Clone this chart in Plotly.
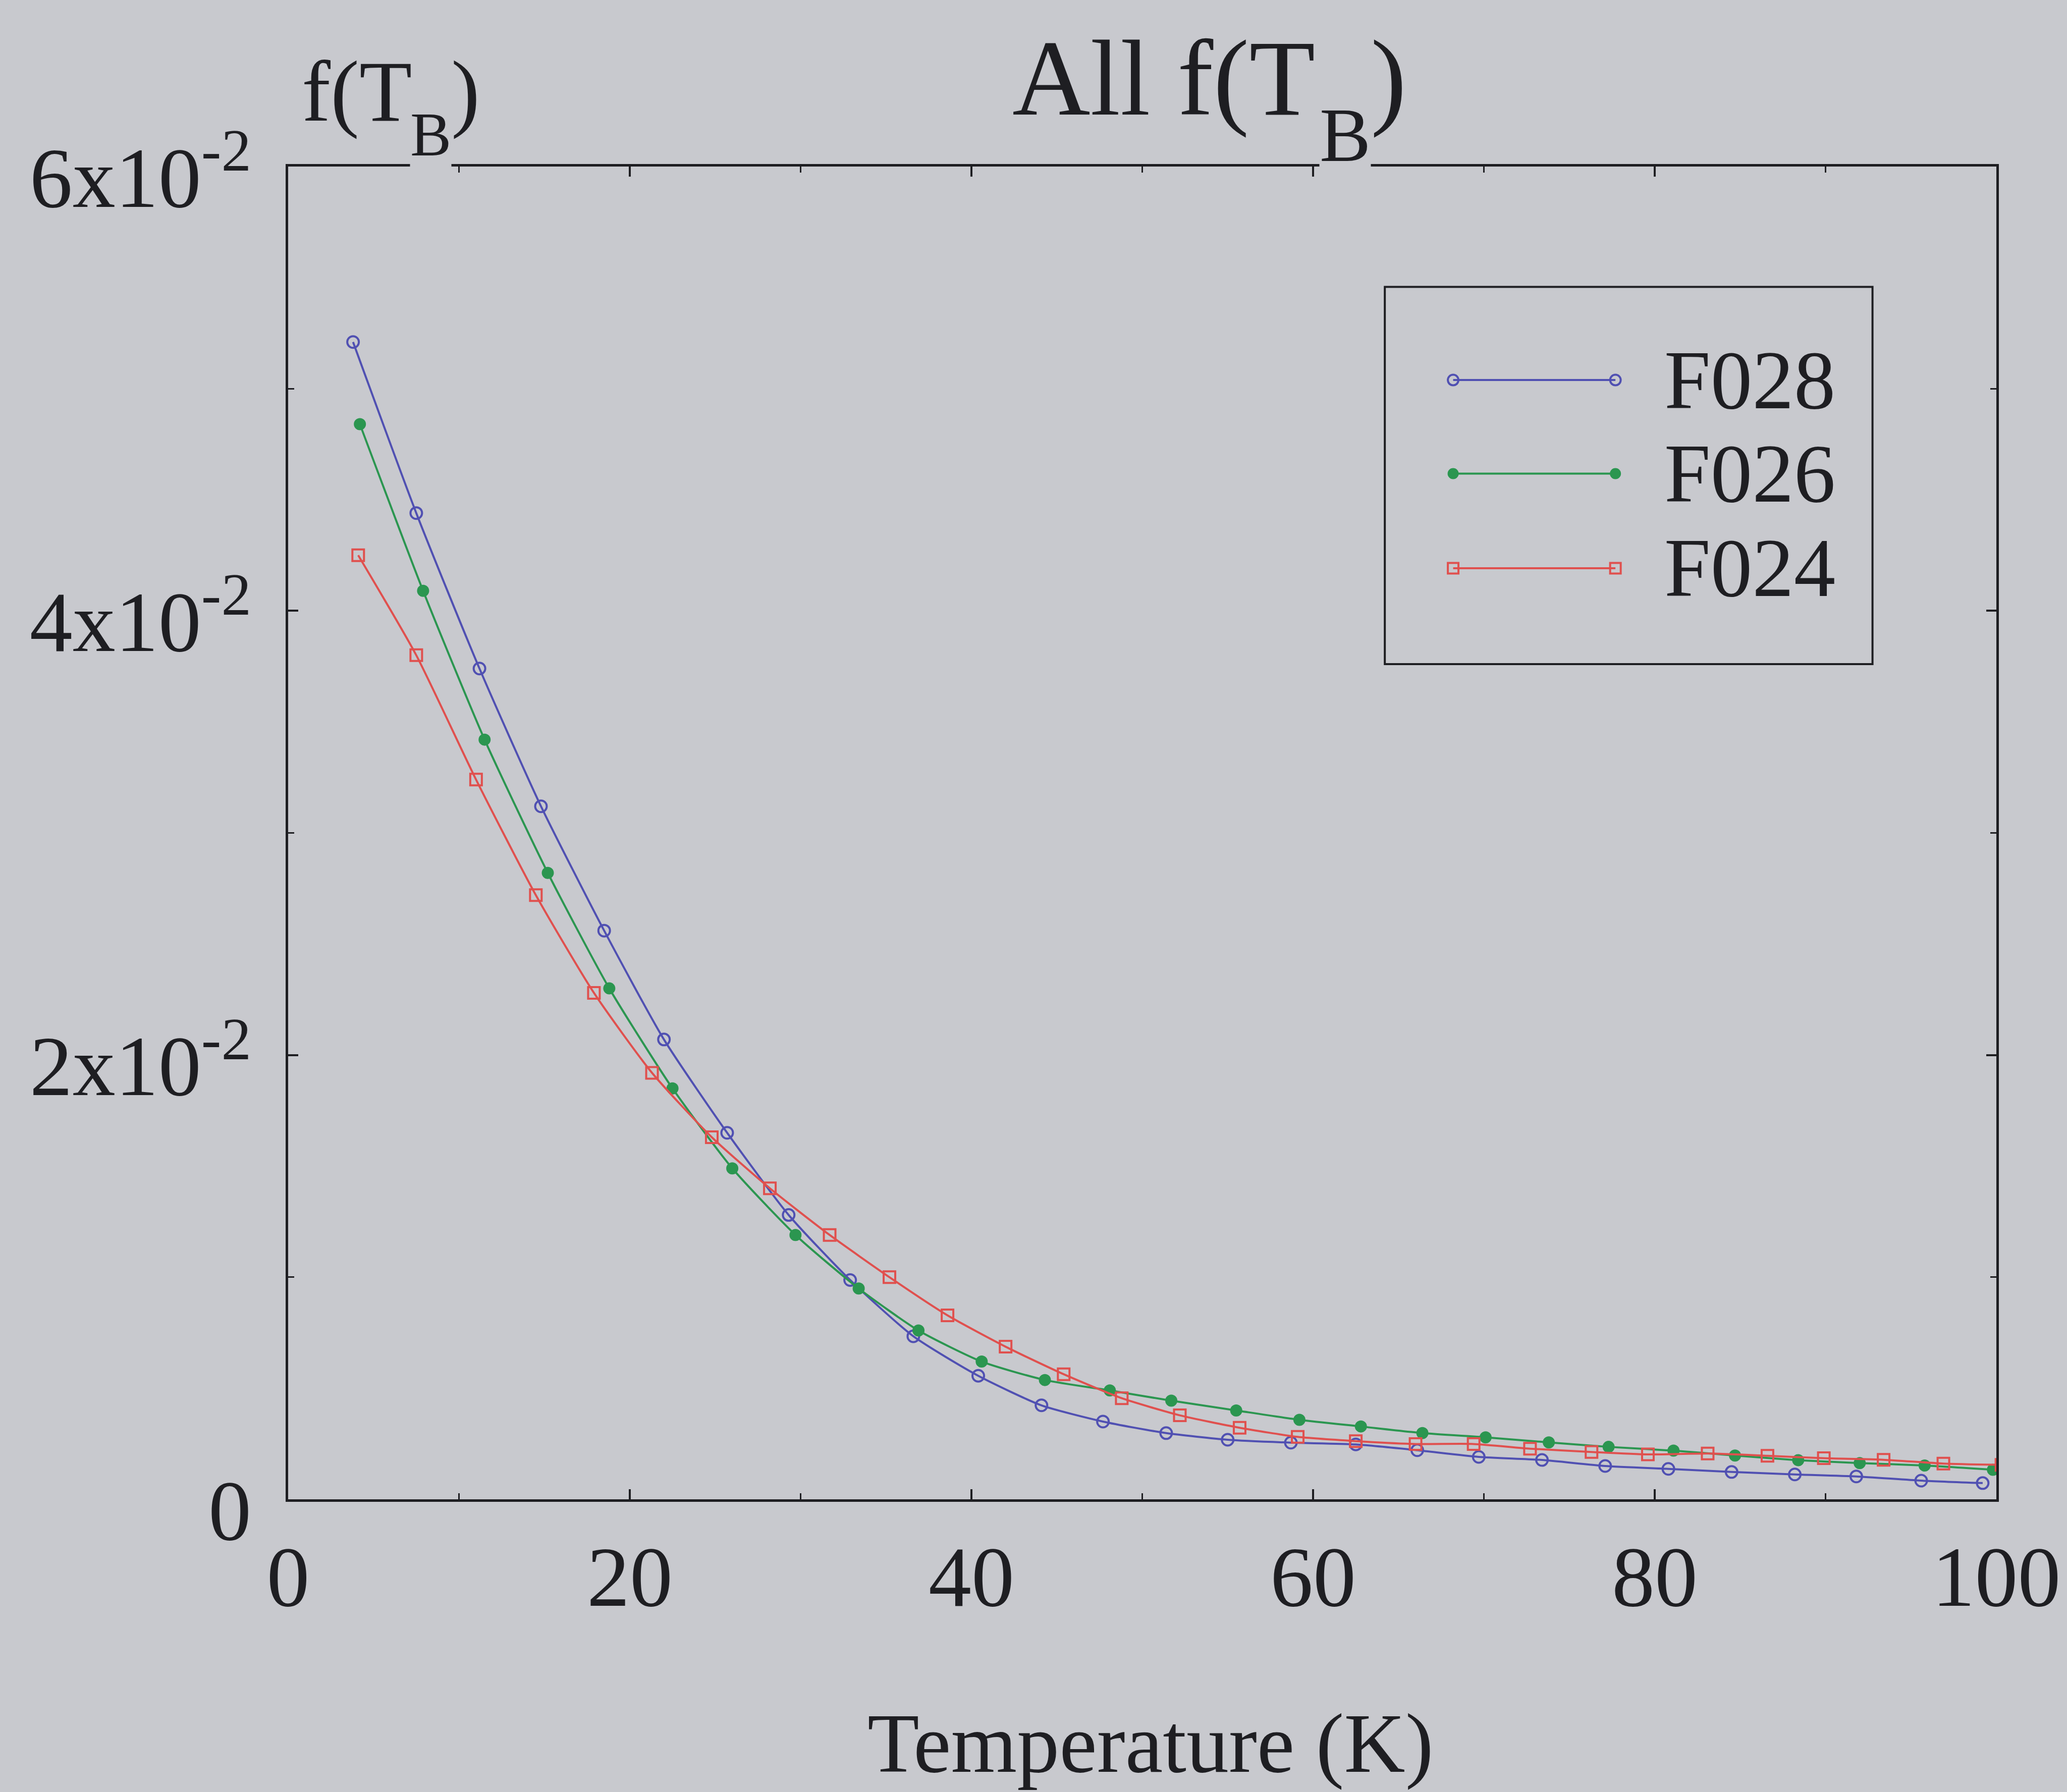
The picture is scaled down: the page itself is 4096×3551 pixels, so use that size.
import plotly.graph_objects as go

# ---------------- data ----------------
series_names = ["F028", "F026", "F024"]

t_f028 = [3.8, 7.5, 11.2, 14.8, 18.5, 22.0, 25.7, 29.3, 32.9, 36.6, 40.4, 44.1, 47.7, 51.4,
          55.0, 58.7, 62.5, 66.1, 69.7, 73.4, 77.1, 80.8, 84.5, 88.2, 91.8, 95.6, 99.2]
f_f028 = [0.0521, 0.0444, 0.0374, 0.0312, 0.0256, 0.0207, 0.0165, 0.0128, 0.00987, 0.00734,
          0.00556, 0.00423, 0.0035, 0.00298, 0.00268, 0.00255, 0.00247, 0.00221, 0.00191,
          0.00177, 0.0015, 0.00137, 0.00123, 0.00112, 0.00103, 0.00084, 0.00073]

t_f026 = [4.2, 7.9, 11.5, 15.2, 18.8, 22.5, 26.0, 29.7, 33.4, 36.9, 40.6, 44.3, 48.1, 51.7,
          55.5, 59.2, 62.8, 66.4, 70.1, 73.8, 77.3, 81.1, 84.7, 88.4, 92.0, 95.8, 99.8]
f_f026 = [0.0484, 0.0409, 0.0342, 0.0282, 0.0230, 0.0185, 0.0149, 0.0119, 0.00949, 0.0076,
          0.0062, 0.00537, 0.0049, 0.00444, 0.0040, 0.00358, 0.00328, 0.00298, 0.00279,
          0.00256, 0.00236, 0.00219, 0.00197, 0.00176, 0.00163, 0.00152, 0.00133]

t_f024 = [4.1, 7.5, 11.0, 14.5, 17.9, 21.3, 24.8, 28.2, 31.7, 35.2, 38.6, 42.0, 45.4, 48.8,
          52.2, 55.7, 59.1, 62.5, 66.0, 69.4, 72.7, 76.3, 79.6, 83.1, 86.6, 89.9, 93.4, 96.9, 100.3]
f_f024 = [0.0425, 0.0380, 0.0324, 0.0272, 0.0228, 0.0192, 0.0163, 0.0140, 0.0119, 0.0100,
          0.00828, 0.00687, 0.00563, 0.00455, 0.00378, 0.00322, 0.00281, 0.00262, 0.00249,
          0.00249, 0.00228, 0.00213, 0.00202, 0.00206, 0.00196, 0.00185, 0.00178, 0.00161, 0.00155]

x_ticks = [0, 20, 40, 60, 80, 100]
x_tick_labels = ["0", "20", "40", "60", "80", "100"]
y_ticks = [0, 0.02, 0.04, 0.06]
y_tick_labels = ["0", "2x10<sup>-2</sup>", "4x10<sup>-2</sup>", "6x10<sup>-2</sup>"]

# ---------------- style ----------------
BG = "#c8c9ce"
INK = "#1e1e22"
FONT = "Liberation Serif"
colors = ["#5050b2", "#2b9650", "#e0504e"]
symbols = ["circle-open", "circle", "square-open"]
msizes = [23, 20, 23]

W, H = 4096, 3551
L, R, T, B = 571, 133, 330, 580

fig = go.Figure()

data = [(t_f028, f_f028), (t_f026, f_f026), (t_f024, f_f024)]
for name, (xs, ys), c, s, ms in zip(series_names, data, colors, symbols, msizes):
    fig.add_trace(go.Scatter(
        x=xs, y=ys, name=name, mode="lines+markers",
        line=dict(color=c, width=4, shape="spline", smoothing=0.6),
        marker=dict(symbol=s, size=ms, color=c, line=dict(color=c, width=4)),
        cliponaxis=True, showlegend=False))

# ---------------- hand-made legend (sample line with a marker at both ends) ----------------
leg_box = (0.642, 0.6267, 0.9275, 0.9097)
leg_x0, leg_x1, leg_text_x = 0.682, 0.777, 0.805
leg_rows = [0.8398, 0.7696, 0.6986]
for name, c, s, ms, yrow in zip(series_names, colors, symbols, msizes, leg_rows):
    fig.add_trace(go.Scatter(
        x=[leg_x0, leg_x1], y=[yrow, yrow], mode="lines+markers", xaxis="x2", yaxis="y2",
        line=dict(color=c, width=4),
        marker=dict(symbol=s, size=ms - 2, color=c, line=dict(color=c, width=4)),
        cliponaxis=False, showlegend=False, hoverinfo="skip"))
    fig.add_annotation(x=leg_text_x, y=yrow, xref="paper", yref="paper", text=name,
                       showarrow=False, xanchor="left", yanchor="middle",
                       font=dict(family=FONT, size=165, color=INK))

fig.add_shape(type="rect", xref="paper", yref="paper",
              x0=leg_box[0], y0=leg_box[1], x1=leg_box[2], y1=leg_box[3],
              line=dict(color=INK, width=4), fillcolor="rgba(0,0,0,0)")

# ---------------- titles (pieces so that the large, low subscript matches) ----------------
def txt(x, y, s, size, xanchor="left", bg=None):
    fig.add_annotation(x=x, y=y, xref="paper", yref="paper", text=s, showarrow=False,
                       xanchor=xanchor, yanchor="middle", borderpad=0,
                       bgcolor=bg if bg else "rgba(0,0,0,0)",
                       font=dict(family=FONT, size=size, color=INK))

# main title "All f(T_B)"
txt(0.6014, 1.0663, "All f(T", 214, xanchor="right")
txt(0.6035, 1.0236, "B", 152, bg=BG)
txt(0.6333, 1.0663, ")", 214)
# y-axis title "f(T_B)"
txt(0.0077, 1.0561, "f(T", 171)
txt(0.0713, 1.0240, "B", 122, bg=BG)
txt(0.0952, 1.0561, ")", 171)
# x-axis title
fig.add_annotation(x=0.505, y=-0.183, xref="paper", yref="paper",
                   text="Temperature (K)", showarrow=False,
                   xanchor="center", yanchor="middle",
                   font=dict(family=FONT, size=168, color=INK))

fig.update_layout(
    width=W, height=H,
    margin=dict(l=L, r=R, t=T, b=B, pad=0),
    paper_bgcolor=BG, plot_bgcolor=BG,
    font=dict(family=FONT, color=INK),
    xaxis=dict(range=[0, 100], tickvals=x_ticks, ticktext=x_tick_labels,
               showgrid=False, zeroline=False, showline=True, linecolor=INK, linewidth=5,
               mirror="ticks", ticks="inside", ticklen=20, tickwidth=4, tickcolor=INK,
               minor=dict(dtick=10, ticks="inside", ticklen=12, tickwidth=3, tickcolor=INK),
               tickfont=dict(family=FONT, size=170, color=INK), ticklabelstandoff=2),
    yaxis=dict(range=[0, 0.06], tickvals=y_ticks, ticktext=y_tick_labels,
               showgrid=False, zeroline=False, showline=True, linecolor=INK, linewidth=5,
               mirror="ticks", ticks="inside", ticklen=20, tickwidth=4, tickcolor=INK,
               minor=dict(dtick=0.01, ticks="inside", ticklen=12, tickwidth=3, tickcolor=INK),
               tickfont=dict(family=FONT, size=170, color=INK), ticklabelstandoff=34,
               ticklabelshift=20),
    xaxis2=dict(overlaying="x", range=[0, 1], visible=False, fixedrange=True),
    yaxis2=dict(overlaying="y", range=[0, 1], visible=False, fixedrange=True),
)

fig.write_html("out.html")
